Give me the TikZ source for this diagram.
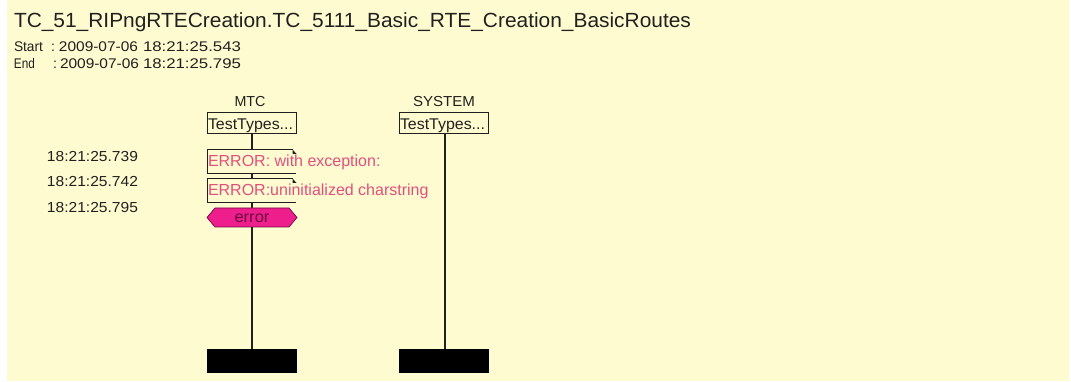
\documentclass[tikz,border=0pt]{standalone}
\usepackage{fontspec}
\setmainfont{Liberation Sans}
\definecolor{paper}{HTML}{FFFBD0}
\definecolor{errtext}{HTML}{E0507E}
\definecolor{errfill}{HTML}{EE1E8C}
\definecolor{errline}{HTML}{6E0A40}
\definecolor{ink}{HTML}{202020}
% set a text at a given width, keeping its natural height
\newcommand\fitw[3]{\resizebox{#1pt}{\height}{\fontsize{#2}{#2}\selectfont #3}}
\tikzset{
  txt/.style={inner sep=0pt, outer sep=0pt, text=ink, anchor=base west},
  insthead/.style={draw=ink, line width=1pt, minimum width=89pt, minimum height=21pt,
    inner sep=0pt, anchor=north west},
  lifeline/.style={draw=ink, line width=1.3pt},
  endbar/.style={fill=black, draw=black, minimum width=89pt, minimum height=23pt,
    inner sep=0pt, anchor=north west},
  logtext/.style={txt, text=errtext, font=\fontsize{16}{16}\selectfont},
  stamp/.style={txt, anchor=base east},
  note/.style={draw=ink, line width=1pt},
  hexa/.style={fill=errfill, draw=errline, line width=0.7pt}
}
\begin{document}
\begin{tikzpicture}[x=1pt, y=-1pt]
  % page and paper
  \fill[white] (0,0) rectangle (1071,382);
  \fill[paper] (7,0) rectangle (1069,381);
  \useasboundingbox (0,0) rectangle (1071,382);

  % heading
  \node[txt] (title) at (14,28) {\fitw{677}{20.5}{TC\_51\_RIPngRTECreation.TC\_5111\_Basic\_RTE\_Creation\_BasicRoutes}};
  \node[txt] (startlbl) at (14,52) {\fitw{29}{14}{Start}};
  \node[txt] (startcol) at (51,52) {\fontsize{14}{14}\selectfont :};
  \node[txt] (startday) at (59,52) {\fitw{79}{14}{2009-07-06}};
  \node[txt] (starttim) at (143,52) {\fitw{98}{14}{18:21:25.543}};
  \node[txt] (endlbl) at (14,69) {\fitw{21}{14}{End}};
  \node[txt] (endcol) at (53,69) {\fontsize{14}{14}\selectfont :};
  \node[txt] (endday) at (60,69) {\fitw{79}{14}{2009-07-06}};
  \node[txt] (endtim) at (143,69) {\fitw{98}{14}{18:21:25.795}};

  % instance names and heads
  \node[txt, anchor=base] (mtcname) at (250,107) {\fitw{31}{14.5}{MTC}};
  \node[txt, anchor=base] (sysname) at (444,107) {\fitw{62}{14.5}{SYSTEM}};
  \node[insthead] (mtc) at (207,112) {};
  \node[insthead] (sys) at (399,112) {};
  \node[txt] (mtclbl) at (208,129.5) {\fitw{85}{15.5}{TestTypes...}};
  \node[txt] (syslbl) at (400,129.5) {\fitw{85}{15.5}{TestTypes...}};

  % instance ends
  \node[endbar] (mtcend) at (207,349) {};
  \node[endbar] (sysend) at (399,349) {};

  % lifelines
  \coordinate (mtcx) at (252,0);
  \coordinate (sysx) at (445,0);
  \draw[lifeline] (mtcx |- mtc.south) -- (mtcx |- mtcend.north);
  \draw[lifeline] (sysx |- sys.south) -- (sysx |- sysend.north);

  % log notes on the MTC lifeline
  \fill[paper] (207.5,150.5) rectangle (296,173.5);
  \draw[note] (293,150) -- (207,150) -- (207,174) -- (296,174);
  \fill[ink] (292.5,149.5) -- (296.5,154) -- (292.5,154) -- cycle;
  \node[logtext] (log1) at (208,166.5) {ERROR: with exception:};

  \fill[paper] (207.5,179.5) rectangle (296,202.5);
  \draw[note] (293,179) -- (207,179) -- (207,203) -- (296,203);
  \fill[ink] (292.5,178.5) -- (296.5,183) -- (292.5,183) -- cycle;
  \node[logtext] (log2) at (208,195.5) {ERROR:uninitialized charstring};

  % verdict
  \filldraw[hexa] (207,217.5) -- (215,208) -- (289,208) -- (297,217.5) -- (289,227) -- (215,227) -- cycle;
  \node[txt, anchor=base, text=errline] (verdict) at (252,223) {\fitw{35}{16}{error}};

  % time stamps
  \node[stamp] (t1) at (138,162) {\fitw{91}{14.5}{18:21:25.739}};
  \node[stamp] (t2) at (138,187) {\fitw{91}{14.5}{18:21:25.742}};
  \node[stamp] (t3) at (138,212) {\fitw{91}{14.5}{18:21:25.795}};
\end{tikzpicture}
\end{document}
